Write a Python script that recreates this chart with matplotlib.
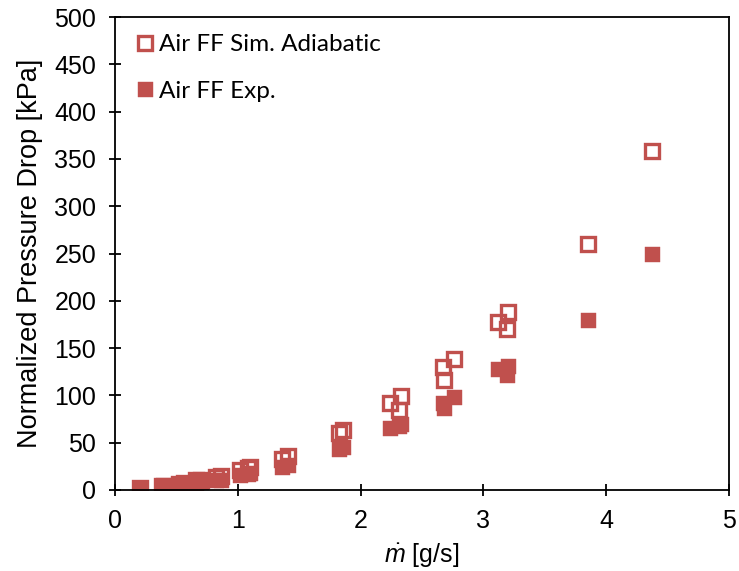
import matplotlib
matplotlib.use("Agg")
import matplotlib.pyplot as plt

# Mass flow rate [g/s] and normalized pressure drop [kPa]
mass_flow = [0.20, 0.38, 0.40, 0.52, 0.56, 0.66, 0.70, 0.82, 0.86, 1.02, 1.08, 1.10,
             1.36, 1.41, 1.82, 1.86, 2.24, 2.31, 2.33, 2.67, 2.68, 2.76, 3.12, 3.19,
             3.20, 3.85, 4.37]
dp_sim = [1.5, 4, 4.5, 6.5, 7.5, 10, 11, 14, 15, 21, 23, 24,
          33, 36, 60, 63, 92, 85, 99, 130, 116, 138, 178, 170,
          188, 260, 358]
dp_exp = [1, 3, 3.5, 5, 6, 7.5, 8, 10, 11, 16, 17, 18,
          24, 26, 43, 45, 66, 68, 70, 92, 87, 98, 128, 122,
          131, 180, 249]

label_sim = "Air FF Sim. Adiabatic"
label_exp = "Air FF Exp."
x_ticks = [0, 1, 2, 3, 4, 5]
y_ticks = list(range(0, 501, 50))

red = "#C0504D"
axis_font = "Liberation Sans"
legend_font = "Lato"

plt.rcParams["mathtext.fontset"] = "custom"
plt.rcParams["mathtext.it"] = "Liberation Sans:italic"
plt.rcParams["mathtext.rm"] = "Liberation Sans"

fig = plt.figure(figsize=(7.39, 5.71), dpi=100)
ax = fig.add_axes([0.1556, 0.142, 0.831, 0.828])

ax.plot(mass_flow, dp_sim, linestyle="none", marker="s", markersize=9.4,
        markerfacecolor="none", markeredgecolor=red, markeredgewidth=2.4,
        label=label_sim)
ax.plot(mass_flow, dp_exp, linestyle="none", marker="s", markersize=10.8,
        markerfacecolor=red, markeredgecolor=red, markeredgewidth=0.3,
        label=label_exp)

ax.set_xlim(0, 5)
ax.set_ylim(0, 500)
ax.set_xticks(x_ticks)
ax.set_yticks(y_ticks)
ax.tick_params(direction="inout", length=9, width=1.3, labelsize=18, pad=9)
for lab in ax.get_xticklabels() + ax.get_yticklabels():
    lab.set_fontfamily(axis_font)
for sp in ax.spines.values():
    sp.set_linewidth(1.3)

ax.set_xlabel(r"$\dot{m}$ [g/s]", fontsize=18, fontfamily=axis_font, labelpad=6)
ax.set_ylabel("Normalized Pressure Drop [kPa]", fontsize=19.5, fontfamily=axis_font,
              labelpad=8)

ax.legend(loc="upper left", frameon=False, prop={"family": legend_font, "size": 17.5},
          handlelength=0.6, handletextpad=0.25, labelspacing=1.05,
          borderaxespad=0.3, bbox_to_anchor=(0.01, 1.0))

fig.savefig("out.png", dpi=100)
